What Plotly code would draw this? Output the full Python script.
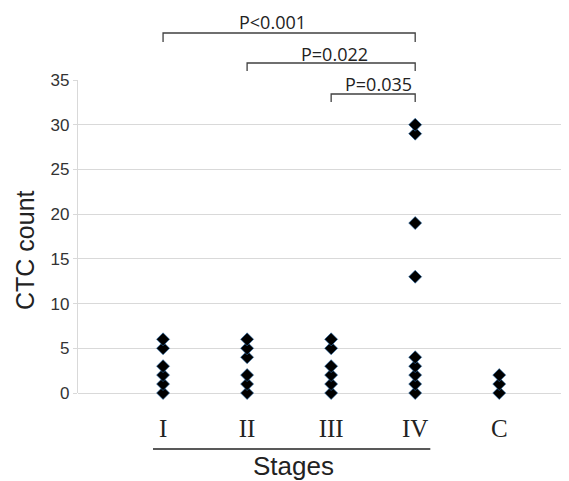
import plotly.graph_objects as go

stages = ["I", "II", "III", "IV", "C"]
stage_I = [0, 1, 2, 3, 5, 6]
stage_II = [0, 1, 2, 4, 5, 6]
stage_III = [0, 1, 2, 3, 5, 6]
stage_IV = [0, 1, 2, 3, 4, 13, 19, 29, 30]
stage_C = [0, 1, 2]
y_ticks = [0, 5, 10, 15, 20, 25, 30, 35]

comparisons = [("I", "IV", "P<0.001"), ("II", "IV", "P=0.022"), ("III", "IV", "P=0.035")]

# page body has an 8px margin; size the figure so it ends at the window edge
OFF = 8
WIN_W, WIN_H = 569, 481
W, H = WIN_W - OFF, WIN_H - OFF
PLOT_L, PLOT_T, PLOT_B = 78, 80, 393  # screen pixels
ML, MR, MT, MB = PLOT_L - OFF, 0, PLOT_T - OFF, WIN_H - PLOT_B
ph = PLOT_B - PLOT_T
pw = WIN_W - PLOT_L

def py(pix):
    return (PLOT_B - pix) / ph

def px(pix):
    return (pix - PLOT_L) / pw

series = [stage_I, stage_II, stage_III, stage_IV, stage_C]
xs, ys = [], []
for s, vals in zip(stages, series):
    xs += [s] * len(vals)
    ys += vals

fig = go.Figure()
fig.add_trace(go.Scatter(
    x=xs, y=ys, mode="markers",
    marker=dict(symbol="diamond", size=10, color="#000000",
                line=dict(color="#2a6fb0", width=0.6)),
    cliponaxis=False, showlegend=False,
))

bracket_px = [(33, 42, 22), (63, 71, 54), (94, 102, 84)]
text_x = [1.3, 2.04, 2.56]
idx = {s: i for i, s in enumerate(stages)}
for (a, b, label), (yh, yl, yt), tx in zip(comparisons, bracket_px, text_x):
    xa, xb = idx[a], idx[b]
    fig.add_shape(type="path", xref="x", yref="paper",
                  path=f"M {xa},{py(yl)} L {xa},{py(yh)} L {xb},{py(yh)} L {xb},{py(yl)}",
                  line=dict(color="#404040", width=1.3))
    fig.add_annotation(x=tx, y=py(yt), xref="x", yref="paper", text=label,
                       showarrow=False, font=dict(family="Open Sans", size=18, color="#222"),
                       xanchor="center", yanchor="middle")

fig.add_shape(type="line", xref="x", yref="paper", x0=-0.12, x1=3.18,
              y0=py(449), y1=py(449), line=dict(color="#222", width=1.5))
fig.add_annotation(x=1.55, y=py(466), xref="x", yref="paper", text="Stages",
                   showarrow=False, font=dict(family="Liberation Sans", size=26, color="#222"),
                   xanchor="center", yanchor="middle")
fig.add_annotation(x=px(25), y=py(250), xref="paper", yref="paper",
                   text="CTC count", textangle=-90, showarrow=False,
                   font=dict(family="Liberation Sans", size=25, color="#222"),
                   xanchor="center", yanchor="middle")

fig.update_xaxes(type="category", categoryorder="array", categoryarray=stages,
                 range=[-1.012, 4.83], showgrid=False, showline=False, zeroline=False,
                 tickfont=dict(family="Liberation Serif", size=25, color="#222"),
                 ticks="", ticklabelstandoff=18)
fig.update_yaxes(range=[0, 35], tickvals=y_ticks, showgrid=True, gridcolor="#d9d9d9",
                 gridwidth=1.2, zeroline=True, zerolinecolor="#d9d9d9", zerolinewidth=1.2,
                 showline=True, linecolor="#d9d9d9", linewidth=1.2,
                 ticks="outside", ticklen=4, tickcolor="#d9d9d9",
                 tickfont=dict(family="Liberation Sans", size=17, color="#333"))

fig.update_layout(width=W, height=H, margin=dict(l=ML, r=MR, t=MT, b=MB),
                  plot_bgcolor="white", paper_bgcolor="white")

fig.write_html("out.html")
